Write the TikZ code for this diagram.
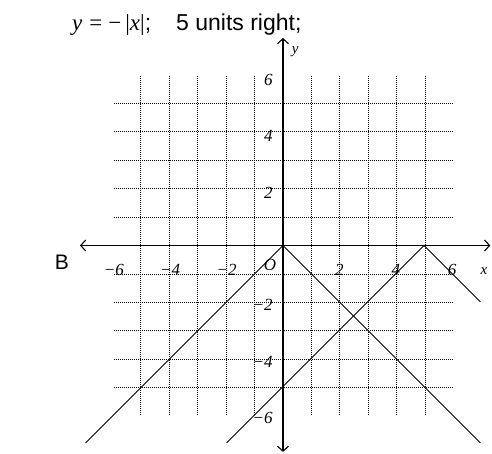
\documentclass[tikz,border=0pt]{standalone}
\usepackage{fontspec}
\setmainfont{Liberation Serif}
\newfontfamily\arialf{Liberation Sans}
\usetikzlibrary{arrows.meta}
\begin{document}
\begin{tikzpicture}[x=1pt,y=-1pt,
  gridline/.style={line width=0.9pt, dash pattern=on 1pt off 1pt},
  axisline/.style={line width=1.1pt, {Straight Barb[length=5pt,width=11pt]}-{Straight Barb[length=5pt,width=11pt]}},
  graphline/.style={line width=0.8pt},
  ticklab/.style={inner sep=0pt, font=\itshape\fontsize{17}{19}\selectfont},
  axlab/.style={inner sep=0pt, font=\itshape\fontsize{15}{17}\selectfont}]
\useasboundingbox (0,0) rectangle (492,453);
\node[anchor=base west, inner sep=0pt, font=\fontsize{23}{26}\selectfont] (title) at (72,30) {\textit{y}\hspace{7pt}=\hspace{6pt}−\hspace{4pt}|\textit{x}|{\arialf\fontsize{23}{26}\selectfont;\hspace{25pt}5 units right;}};
\node[font=\arialf\fontsize{21}{24}\selectfont] (B) at (62,262) {B};
\begin{scope}[shift={(283,245.5)}, x=28.2pt, y=28.2pt]
  \draw[gridline] (-6,-6) grid (6,6);
  \draw[axisline] (-7.2,0) -- (7.35,0);
  \draw[axisline] (0,-7.32) -- (0,7.36);
  \draw[graphline] (-7,-7) -- (0,0) -- (7,-7);
  \draw[graphline] (-2,-7) -- (5,0) -- (7,-2);
  \foreach \v in {-6,-4,-2,2,4,6} {
    \node[ticklab] (xl\v) at (\v,-0.87) {\ifnum\v<0 −\the\numexpr-\v\relax\else\v\fi};
    \node[ticklab, anchor=east] (yl\v) at (-0.36,\v-0.12) {\ifnum\v<0 −\the\numexpr-\v\relax\else\v\fi};
  }
  \node[ticklab] (orig) at (-0.46,-0.69) {O};
  \node[axlab] (ylab) at (0.43,6.86) {y};
  \node[axlab] (xlab) at (7.13,-0.9) {x};
\end{scope}
\end{tikzpicture}
\end{document}
